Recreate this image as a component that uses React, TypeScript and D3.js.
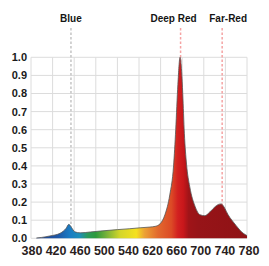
import React from "react";
import * as d3 from "d3";

const width = 269;
const height = 266;
const margin = { top: 57.3, right: 22, bottom: 27.7, left: 31 };

// spectrum
const wavelengths = [
  390, 400, 415, 434, 445, 450, 455, 461, 471, 490, 508, 540, 563, 582, 600,
  610, 619, 628, 637, 644, 648, 652, 656, 659, 661, 664, 668, 674, 684, 693,
  702, 711, 721, 727, 732, 736, 739, 745, 752, 760, 767, 773, 780,
];
const intensity = [
  0.002, 0.005, 0.013, 0.028, 0.055, 0.077, 0.06, 0.036, 0.03, 0.035, 0.04,
  0.048, 0.053, 0.058, 0.062, 0.066, 0.08, 0.13, 0.24, 0.4, 0.6, 0.85, 1.0,
  0.92, 0.8, 0.58, 0.41, 0.285, 0.175, 0.13, 0.125, 0.145, 0.175, 0.187, 0.19,
  0.18, 0.165, 0.13, 0.1, 0.07, 0.045, 0.028, 0.015,
];

const yTicks = [0, 0.1, 0.2, 0.3, 0.4, 0.5, 0.6, 0.7, 0.8, 0.9, 1.0];
const xLabels = ["380", "420", "460", "500", "540", "620", "660", "700", "740", "780"];

const markerNames = ["Blue", "Deep Red", "Far-Red"];
const markerNm = [454, 657, 734];

// gradient colour along the wavelength
const stopNm = [380, 430, 452, 470, 485, 500, 520, 545, 575, 590, 615, 640, 652, 662, 672, 690, 780];
const stopColor = [
  "#1d3a86", "#1f57a6", "#1a7cc4", "#1d8fb8", "#2a9a5a", "#2d9a3c", "#78b23a",
  "#d4d62a", "#f5e11e", "#eca234", "#e2692e", "#dc4a26", "#d22020", "#c8171b",
  "#a01418", "#971418", "#8f1215",
];

export default function App() {
  const x = d3
    .scaleLinear()
    .domain([380, 780])
    .range([margin.left, width - margin.right]);
  const y = d3
    .scaleLinear()
    .domain([0, 1])
    .range([height - margin.bottom, margin.top]);
  const xLab = d3
    .scalePoint()
    .domain(xLabels)
    .range([32, 249]);

  const points = wavelengths.map((w, i) => [w, intensity[i]] as [number, number]);

  const area = d3
    .area<[number, number]>()
    .x((d) => x(d[0]))
    .y0(y(0))
    .y1((d) => y(d[1]))
    .curve(d3.curveMonotoneX);
  const line = d3
    .line<[number, number]>()
    .x((d) => x(d[0]))
    .y((d) => y(d[1]))
    .curve(d3.curveMonotoneX);

  const gridX = d3.range(380, 781, 40);
  const labelShift = [0, -7, 6];

  return (
    <svg
      width={width}
      height={height}
      style={{ position: "absolute", left: 0, top: 0, background: "#fff" }}
      fontFamily="'Liberation Sans', Arial, sans-serif"
    >
      <defs>
        <linearGradient
          id="spec"
          gradientUnits="userSpaceOnUse"
          x1={x(380)}
          x2={x(780)}
          y1={0}
          y2={0}
        >
          {stopNm.map((n, i) => (
            <stop key={i} offset={(n - 380) / 400} stopColor={stopColor[i]} />
          ))}
        </linearGradient>
      </defs>

      {/* grid */}
      <g stroke="#dcdcdc" strokeWidth={1}>
        {yTicks.map((t) => (
          <line key={t} x1={x(380)} x2={x(780)} y1={y(t)} y2={y(t)} />
        ))}
        {gridX.map((g) => (
          <line key={g} x1={x(g)} x2={x(g)} y1={y(0)} y2={y(1)} />
        ))}
      </g>

      {/* marker lines */}
      {markerNm.map((n, i) => (
        <line
          key={i}
          x1={x(n)}
          x2={x(n)}
          y1={28}
          y2={y(0)}
          stroke={i === 0 ? "#c4c4c4" : "#f5a3a3"}
          strokeWidth={1.5}
          strokeDasharray="2.5,2"
        />
      ))}

      <path d={area(points) || ""} fill="url(#spec)" />
      <path d={line(points) || ""} fill="none" stroke="#555" strokeWidth={0.8} />

      {/* marker labels */}
      {markerNames.map((m, i) => (
        <text
          key={m}
          x={x(markerNm[i]) + labelShift[i]}
          y={22}
          textAnchor="middle"
          fontSize={10}
          fontWeight="bold"
          fill="#151515"
        >
          {m}
        </text>
      ))}

      {/* y labels */}
      {yTicks.map((t) => (
        <text
          key={t}
          x={27}
          y={y(t)}
          dy="0.36em"
          textAnchor="end"
          fontSize={11}
          fontWeight="bold"
          fill="#1a1a1a"
        >
          {t.toFixed(1)}
        </text>
      ))}

      {/* x labels */}
      {xLabels.map((l) => (
        <text
          key={l}
          x={xLab(l)}
          y={254.5}
          textAnchor="middle"
          fontSize={12.5}
          fontWeight="bold"
          fill="#2a1e1e"
        >
          {l}
        </text>
      ))}
    </svg>
  );
}
